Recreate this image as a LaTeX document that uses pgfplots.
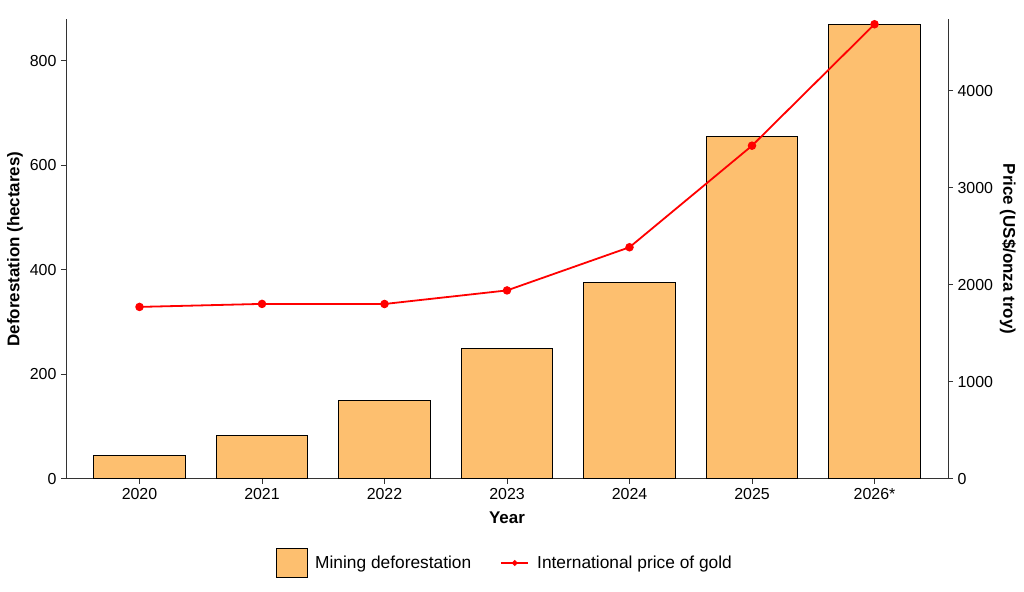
\documentclass[border=0pt]{standalone}
\usepackage{pgfplots}
\pgfplotsset{compat=1.18}
\usepackage{fontspec}
\setmainfont{Liberation Sans}
\definecolor{barorange}{HTML}{FDBF6F}
\definecolor{axgray}{HTML}{333333}
\begin{document}
\begin{tikzpicture}
\pgfplotsset{
  common/.style={
    width=882bp, height=459.4bp, scale only axis,
    xmin=-0.6, xmax=6.6,
    /pgf/number format/assume math mode=true,
    tick label style={font=\fontsize{16}{19}\selectfont, text=black},
    axis line style={axgray, line width=0.9bp},
    tick style={axgray, line width=0.9bp},
    major tick length=5bp,
    tick align=outside,
    minor tick num=0,
    clip=false,
  }
}
\begin{axis}[common,
  axis x line*=bottom, axis y line*=left,
  ymin=0, ymax=879,
  ytick={0,200,400,600,800},
  yticklabel style={/pgf/number format/1000 sep={}},
  xtick={0,1,2,3,4,5,6},
  xticklabels={2020,2021,2022,2023,2024,2025,2026*},
  xlabel={Year},
  ylabel={Deforestation (hectares)},
  every axis x label/.style={at={(axis description cs:0.5,-0.0855)}, anchor=center, font=\fontsize{17}{20}\selectfont\bfseries},
  every axis y label/.style={at={(axis description cs:-0.0578,0.5)}, anchor=center, rotate=90, font=\fontsize{17}{20}\selectfont\bfseries},
  xticklabel style={yshift=-1bp},
  yticklabel style={xshift=-1bp},
]
\addplot[ybar, bar width=0.75, fill=barorange, draw=black, line width=0.9bp]
coordinates {(0,45) (1,83) (2,150) (3,249) (4,375) (5,655) (6,869)};
\end{axis}
\begin{axis}[common,
  axis x line=none, axis y line*=right,
  ymin=0, ymax=4736,
  ytick={0,1000,2000,3000,4000},
  yticklabel style={/pgf/number format/1000 sep={}, xshift=1bp},
  ylabel={Price (US\$/onza troy)},
  every axis y label/.style={at={(axis description cs:1.068,0.5)}, anchor=center, rotate=-90, font=\fontsize{17}{20}\selectfont\bfseries},
  legend style={at={(axis description cs:0.4975,-0.1835)}, anchor=center, draw=none, fill=none,
    font=\fontsize{17.4}{20}\selectfont, legend columns=2,
    /tikz/every even column/.append style={column sep=27bp}},
  legend cell align=left,
]
\coordinate (BL) at (rel axis cs:0,0);
\coordinate (TR) at (rel axis cs:1,1);
\addlegendimage{legend image code/.code={\draw[draw=black, fill=barorange, line width=0.9bp] (0bp,-14.5bp) rectangle (31bp,14.5bp); \path[draw=none] (0bp,0bp) -- (37bp,0bp);}}
\addlegendentry{Mining deforestation}
\addplot[red, line width=1.8bp, mark=*, mark size=3.3bp, mark options={fill=red, draw=red},
  legend image code/.code={\draw[red, line width=1.8bp] (0bp,0bp) -- (27bp,0bp); \fill[red] (13.5bp,0bp) circle (1.8bp); \path[draw=none] (0bp,0bp) -- (34bp,0bp);}]
coordinates {(0,1771) (1,1802) (2,1801) (3,1941) (4,2386) (5,3433) (6,4685)};
\addlegendentry{International price of gold}
\end{axis}
\useasboundingbox ([shift={(-66bp,-112.3bp)}]BL) rectangle ([shift={(76bp,19.3bp)}]TR);
\end{tikzpicture}
\end{document}
